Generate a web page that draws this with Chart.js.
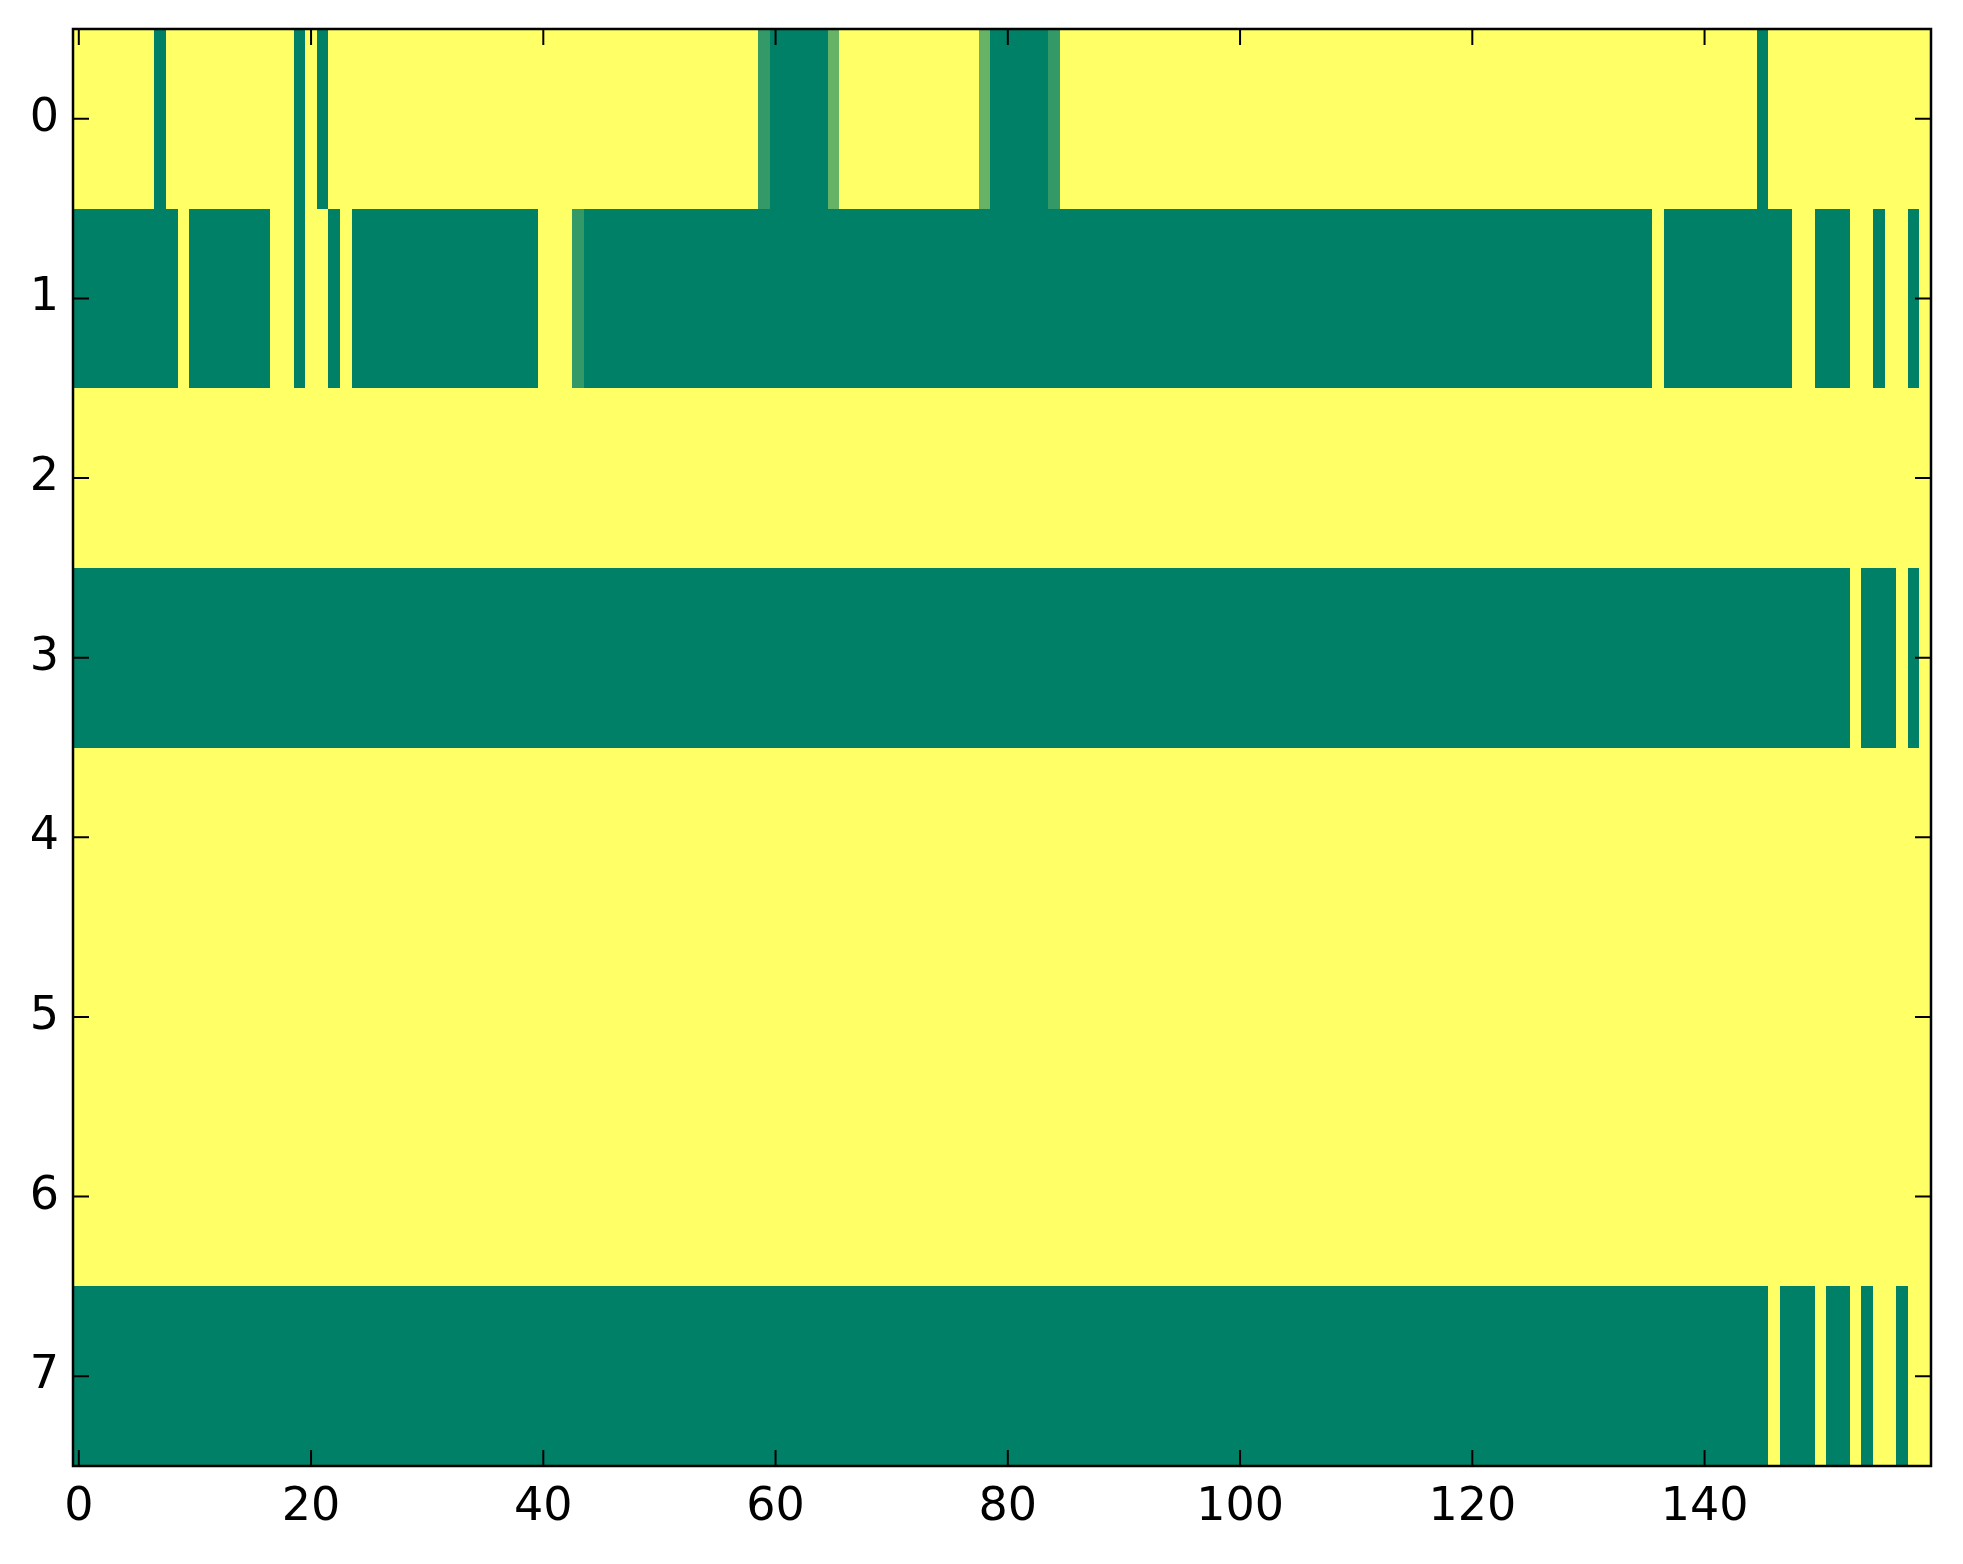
<!DOCTYPE html>
<html>
<head>
<meta charset="utf-8">
<script src="https://cdn.jsdelivr.net/npm/chart.js@4.4.1/dist/chart.umd.min.js"></script>
<style>
  body { margin: 0; background: #ffffff; }
  canvas { display: block; }
</style>
</head>
<body>
<canvas id="heatChart" width="1963" height="1564"></canvas>
<script>
'use strict';

// row labels (y) and x tick labels
const rowLabels = [0, 1, 2, 3, 4, 5, 6, 7]
const xTicks = [0, 20, 40, 60, 80, 100, 120, 140]

// cell values per row, 160 columns each (0 = green, 1 = yellow)
const row0 = [
  1,1,1,1,1,1,1,0,1,1, 1,1,1,1,1,1,1,1,1,0,
  1,0,1,1,1,1,1,1,1,1, 1,1,1,1,1,1,1,1,1,1,
  1,1,1,1,1,1,1,1,1,1, 1,1,1,1,1,1,1,1,1,0.2,
  0,0,0,0,0,0.4,1,1,1,1, 1,1,1,1,1,1,1,1,0.4,0,
  0,0,0,0,0.2,1,1,1,1,1, 1,1,1,1,1,1,1,1,1,1,
  1,1,1,1,1,1,1,1,1,1, 1,1,1,1,1,1,1,1,1,1,
  1,1,1,1,1,1,1,1,1,1, 1,1,1,1,1,1,1,1,1,1,
  1,1,1,1,1,0,1,1,1,1, 1,1,1,1,1,1,1,1,1,1
]
const row1 = [
  0,0,0,0,0,0,0,0,0,1, 0,0,0,0,0,0,0,1,1,0,
  1,1,0,1,0,0,0,0,0,0, 0,0,0,0,0,0,0,0,0,0,
  1,1,1,0.2,0,0,0,0,0,0, 0,0,0,0,0,0,0,0,0,0,
  0,0,0,0,0,0,0,0,0,0, 0,0,0,0,0,0,0,0,0,0,
  0,0,0,0,0,0,0,0,0,0, 0,0,0,0,0,0,0,0,0,0,
  0,0,0,0,0,0,0,0,0,0, 0,0,0,0,0,0,0,0,0,0,
  0,0,0,0,0,0,0,0,0,0, 0,0,0,0,0,0,1,0,0,0,
  0,0,0,0,0,0,0,0,1,1, 0,0,0,1,1,0,1,1,0,1
]
const row2 = [
  1,1,1,1,1,1,1,1,1,1, 1,1,1,1,1,1,1,1,1,1,
  1,1,1,1,1,1,1,1,1,1, 1,1,1,1,1,1,1,1,1,1,
  1,1,1,1,1,1,1,1,1,1, 1,1,1,1,1,1,1,1,1,1,
  1,1,1,1,1,1,1,1,1,1, 1,1,1,1,1,1,1,1,1,1,
  1,1,1,1,1,1,1,1,1,1, 1,1,1,1,1,1,1,1,1,1,
  1,1,1,1,1,1,1,1,1,1, 1,1,1,1,1,1,1,1,1,1,
  1,1,1,1,1,1,1,1,1,1, 1,1,1,1,1,1,1,1,1,1,
  1,1,1,1,1,1,1,1,1,1, 1,1,1,1,1,1,1,1,1,1
]
const row3 = [
  0,0,0,0,0,0,0,0,0,0, 0,0,0,0,0,0,0,0,0,0,
  0,0,0,0,0,0,0,0,0,0, 0,0,0,0,0,0,0,0,0,0,
  0,0,0,0,0,0,0,0,0,0, 0,0,0,0,0,0,0,0,0,0,
  0,0,0,0,0,0,0,0,0,0, 0,0,0,0,0,0,0,0,0,0,
  0,0,0,0,0,0,0,0,0,0, 0,0,0,0,0,0,0,0,0,0,
  0,0,0,0,0,0,0,0,0,0, 0,0,0,0,0,0,0,0,0,0,
  0,0,0,0,0,0,0,0,0,0, 0,0,0,0,0,0,0,0,0,0,
  0,0,0,0,0,0,0,0,0,0, 0,0,0,1,0,0,0,1,0,1
]
const row4 = [
  1,1,1,1,1,1,1,1,1,1, 1,1,1,1,1,1,1,1,1,1,
  1,1,1,1,1,1,1,1,1,1, 1,1,1,1,1,1,1,1,1,1,
  1,1,1,1,1,1,1,1,1,1, 1,1,1,1,1,1,1,1,1,1,
  1,1,1,1,1,1,1,1,1,1, 1,1,1,1,1,1,1,1,1,1,
  1,1,1,1,1,1,1,1,1,1, 1,1,1,1,1,1,1,1,1,1,
  1,1,1,1,1,1,1,1,1,1, 1,1,1,1,1,1,1,1,1,1,
  1,1,1,1,1,1,1,1,1,1, 1,1,1,1,1,1,1,1,1,1,
  1,1,1,1,1,1,1,1,1,1, 1,1,1,1,1,1,1,1,1,1
]
const row5 = [
  1,1,1,1,1,1,1,1,1,1, 1,1,1,1,1,1,1,1,1,1,
  1,1,1,1,1,1,1,1,1,1, 1,1,1,1,1,1,1,1,1,1,
  1,1,1,1,1,1,1,1,1,1, 1,1,1,1,1,1,1,1,1,1,
  1,1,1,1,1,1,1,1,1,1, 1,1,1,1,1,1,1,1,1,1,
  1,1,1,1,1,1,1,1,1,1, 1,1,1,1,1,1,1,1,1,1,
  1,1,1,1,1,1,1,1,1,1, 1,1,1,1,1,1,1,1,1,1,
  1,1,1,1,1,1,1,1,1,1, 1,1,1,1,1,1,1,1,1,1,
  1,1,1,1,1,1,1,1,1,1, 1,1,1,1,1,1,1,1,1,1
]
const row6 = [
  1,1,1,1,1,1,1,1,1,1, 1,1,1,1,1,1,1,1,1,1,
  1,1,1,1,1,1,1,1,1,1, 1,1,1,1,1,1,1,1,1,1,
  1,1,1,1,1,1,1,1,1,1, 1,1,1,1,1,1,1,1,1,1,
  1,1,1,1,1,1,1,1,1,1, 1,1,1,1,1,1,1,1,1,1,
  1,1,1,1,1,1,1,1,1,1, 1,1,1,1,1,1,1,1,1,1,
  1,1,1,1,1,1,1,1,1,1, 1,1,1,1,1,1,1,1,1,1,
  1,1,1,1,1,1,1,1,1,1, 1,1,1,1,1,1,1,1,1,1,
  1,1,1,1,1,1,1,1,1,1, 1,1,1,1,1,1,1,1,1,1
]
const row7 = [
  0,0,0,0,0,0,0,0,0,0, 0,0,0,0,0,0,0,0,0,0,
  0,0,0,0,0,0,0,0,0,0, 0,0,0,0,0,0,0,0,0,0,
  0,0,0,0,0,0,0,0,0,0, 0,0,0,0,0,0,0,0,0,0,
  0,0,0,0,0,0,0,0,0,0, 0,0,0,0,0,0,0,0,0,0,
  0,0,0,0,0,0,0,0,0,0, 0,0,0,0,0,0,0,0,0,0,
  0,0,0,0,0,0,0,0,0,0, 0,0,0,0,0,0,0,0,0,0,
  0,0,0,0,0,0,0,0,0,0, 0,0,0,0,0,0,0,0,0,0,
  0,0,0,0,0,0,1,0,0,0, 1,0,0,1,0,1,1,0,1,1
]

const rows = [row0, row1, row2, row3, row4, row5, row6, row7]

// matplotlib "summer" colormap
function summer(v) {
  const r = Math.round(255 * v)
  const g = Math.round(255 * (0.5 + 0.5 * v))
  return 'rgb(' + r + ',' + g + ',102)'
}

const tickFont = { family: 'DejaVu Sans', size: 46 }

const heatPlugin = {
  id: 'heat',
  beforeDatasetsDraw(chart) {
    const c = chart.ctx
    const xs = chart.scales.x
    const ys = chart.scales.y
    c.save()
    rows.forEach((vals, r) => {
      const y0 = Math.round(ys.getPixelForValue(rowLabels[r] - 0.5))
      const y1 = Math.round(ys.getPixelForValue(rowLabels[r] + 0.5))
      vals.forEach((v, col) => {
        const x0 = Math.round(xs.getPixelForValue(col - 0.5))
        const x1 = Math.round(xs.getPixelForValue(col + 0.5))
        c.fillStyle = summer(v)
        c.fillRect(x0, y0, x1 - x0, y1 - y0)
      })
    })
    c.restore()
  },
  afterDraw(chart) {
    const c = chart.ctx
    const a = chart.chartArea
    const xs = chart.scales.x
    const ys = chart.scales.y
    const len = 16
    c.save()
    c.strokeStyle = '#000'
    c.lineWidth = 2
    c.beginPath()
    for (const v of xTicks) {
      const px = xs.getPixelForValue(v)
      c.moveTo(px, a.bottom); c.lineTo(px, a.bottom - len)
      c.moveTo(px, a.top); c.lineTo(px, a.top + len)
    }
    for (const v of rowLabels) {
      const py = ys.getPixelForValue(v)
      c.moveTo(a.left, py); c.lineTo(a.left + len, py)
      c.moveTo(a.right, py); c.lineTo(a.right - len, py)
    }
    c.stroke()
    c.lineWidth = 2.5
    c.strokeRect(a.left, a.top, a.right - a.left, a.bottom - a.top)
    c.restore()
  }
}

const ctxh = document.getElementById('heatChart')

const heatChart = new Chart(ctxh, {
  type: 'scatter',
  data: { datasets: [{ data: [], pointRadius: 0 }] },
  options: {
    responsive: false,
    animation: false,
    layout: { padding: { top: 29, right: 32, left: 0, bottom: 0 } },
    plugins: { legend: { display: false }, tooltip: { enabled: false } },
    scales: {
      x: {
        type: 'linear',
        min: -0.5,
        max: 159.5,
        grid: { display: false, drawTicks: false },
        border: { display: false },
        ticks: { font: tickFont, color: '#000', padding: 14, autoSkip: false, maxRotation: 0 },
        afterBuildTicks: (s) => { s.ticks = xTicks.map(v => ({ value: v })) },
        afterFit: (s) => {
          s.height = 98
          s.paddingLeft = 0
          s.paddingRight = 0
        }
      },
      y: {
        type: 'linear',
        reverse: true,
        min: -0.5,
        max: 7.5,
        grid: { display: false, drawTicks: false },
        border: { display: false },
        ticks: { font: tickFont, color: '#000', padding: 14, autoSkip: false },
        afterBuildTicks: (s) => { s.ticks = rowLabels.map(v => ({ value: v })) },
        afterFit: (s) => {
          s.width = 73
          s.paddingTop = 0
          s.paddingBottom = 0
        }
      }
    }
  },
  plugins: [heatPlugin]
})
</script>
</body>
</html>
